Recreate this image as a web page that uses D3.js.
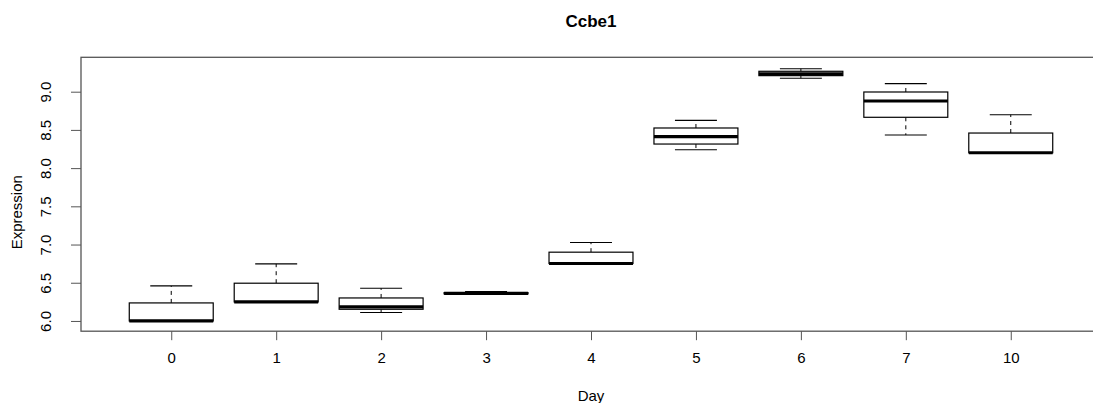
<!DOCTYPE html>
<html>
<head>
<meta charset="utf-8">
<script src="https://cdn.jsdelivr.net/npm/d3@7"></script>
<style>
  html, body { margin: 0; background: #fff; overflow: hidden; }
  svg { display: block; }
  text { font-family: "Liberation Sans", Arial, sans-serif; fill: #000; }
</style>
</head>
<body>
<svg id="chart" width="1093" height="403"></svg>
<script>
// boxplot stats, one entry per day
const days = ["0", "1", "2", "3", "4", "5", "6", "7", "10"];
const lowerWhisker = [6.00, 6.249, 6.110, 6.350, 6.752, 8.240, 9.176, 8.433, 8.201];
const q1           = [6.00, 6.249, 6.153, 6.355, 6.752, 8.315, 9.210, 8.665, 8.201];
const median       = [6.00, 6.249, 6.183, 6.360, 6.752, 8.411, 9.232, 8.878, 8.201];
const q3           = [6.236, 6.494, 6.301, 6.370, 6.900, 8.525, 9.267, 8.996, 8.459];
const upperWhisker = [6.459, 6.747, 6.428, 6.385, 7.027, 8.625, 9.301, 9.105, 8.699];
const yTicks = [6.0, 6.5, 7.0, 7.5, 8.0, 8.5, 9.0];

const plotLeft = 81, plotRight = 1101, plotTop = 57.3, plotBottom = 331.2;
const boxwex = 0.8;

const data = days.map((d, i) => ({
  day: d, pos: i + 1,
  lo: lowerWhisker[i], q1: q1[i], med: median[i], q3: q3[i], hi: upperWhisker[i]
}));

const svg = d3.select("#chart");

// R-style limits: positions 0.5..n+0.5 widened by 4%
const xScale = d3.scaleLinear()
  .domain([0.14, days.length + 0.86])
  .range([plotLeft, plotRight]);
const yScale = d3.scaleLinear()
  .domain([5.866, 9.45])
  .range([plotBottom, plotTop]);

const halfW = (xScale(1 + boxwex / 2) - xScale(1));
const capW = halfW / 2;

const g = svg.append("g");

data.forEach(d => {
  const cx = xScale(d.pos);
  const box = g.append("g");
  // whiskers (dashed)
  box.append("line")
    .attr("x1", cx).attr("x2", cx)
    .attr("y1", yScale(d.q3)).attr("y2", yScale(d.hi))
    .attr("stroke", "#000").attr("stroke-dasharray", "4,4");
  box.append("line")
    .attr("x1", cx).attr("x2", cx)
    .attr("y1", yScale(d.q1)).attr("y2", yScale(d.lo))
    .attr("stroke", "#000").attr("stroke-dasharray", "4,4");
  // caps
  [d.hi, d.lo].forEach(v => {
    box.append("line")
      .attr("x1", cx - capW).attr("x2", cx + capW)
      .attr("y1", yScale(v)).attr("y2", yScale(v))
      .attr("stroke", "#000").attr("stroke-width", 1.1);
  });
  // box
  box.append("rect")
    .attr("x", cx - halfW).attr("width", halfW * 2)
    .attr("y", yScale(d.q3))
    .attr("height", Math.max(0, yScale(d.q1) - yScale(d.q3)))
    .attr("fill", "#fff").attr("stroke", "#000").attr("stroke-width", 1.2);
  // median
  box.append("line")
    .attr("x1", cx - halfW).attr("x2", cx + halfW)
    .attr("y1", yScale(d.med)).attr("y2", yScale(d.med))
    .attr("stroke", "#000").attr("stroke-width", 3.2);
});

// frame
svg.append("rect")
  .attr("x", plotLeft).attr("y", plotTop)
  .attr("width", plotRight - plotLeft).attr("height", plotBottom - plotTop)
  .attr("fill", "none").attr("stroke", "#555").attr("stroke-width", 1.3);

// axes
const xAxis = d3.axisBottom(xScale)
  .tickValues(data.map(d => d.pos))
  .tickFormat(p => days[p - 1])
  .tickSize(9).tickSizeOuter(0).tickPadding(12);
const xg = svg.append("g")
  .attr("transform", `translate(0,${plotBottom})`)
  .call(xAxis);
xg.select(".domain").remove();
xg.selectAll("line").attr("stroke", "#555");
xg.selectAll("text").attr("font-size", 15).attr("font-family", "Liberation Sans, Arial, sans-serif");

const yAxis = d3.axisLeft(yScale)
  .tickValues(yTicks)
  .tickFormat(d3.format(".1f"))
  .tickSize(10).tickSizeOuter(0);
const yg = svg.append("g")
  .attr("transform", `translate(${plotLeft},0)`)
  .call(yAxis);
yg.select(".domain").remove();
yg.selectAll("line").attr("stroke", "#555");
yg.selectAll("text")
  .attr("font-size", 15)
  .attr("font-family", "Liberation Sans, Arial, sans-serif")
  .attr("x", null)
  .attr("text-anchor", "middle")
  .attr("transform", "translate(-35,0) rotate(-90)")
  .attr("dy", "0.35em");

// title and axis labels
const midX = xScale((1 + days.length) / 2);
svg.append("text")
  .attr("x", midX).attr("y", 27)
  .attr("text-anchor", "middle")
  .attr("font-size", 17).attr("font-weight", "bold")
  .text("Ccbe1");
svg.append("text")
  .attr("x", midX).attr("y", 401)
  .attr("text-anchor", "middle")
  .attr("font-size", 15)
  .text("Day");
svg.append("text")
  .attr("transform", `translate(22,${(plotTop + plotBottom) / 2 + 18}) rotate(-90)`)
  .attr("text-anchor", "middle")
  .attr("font-size", 15)
  .text("Expression");
</script>
</body>
</html>
